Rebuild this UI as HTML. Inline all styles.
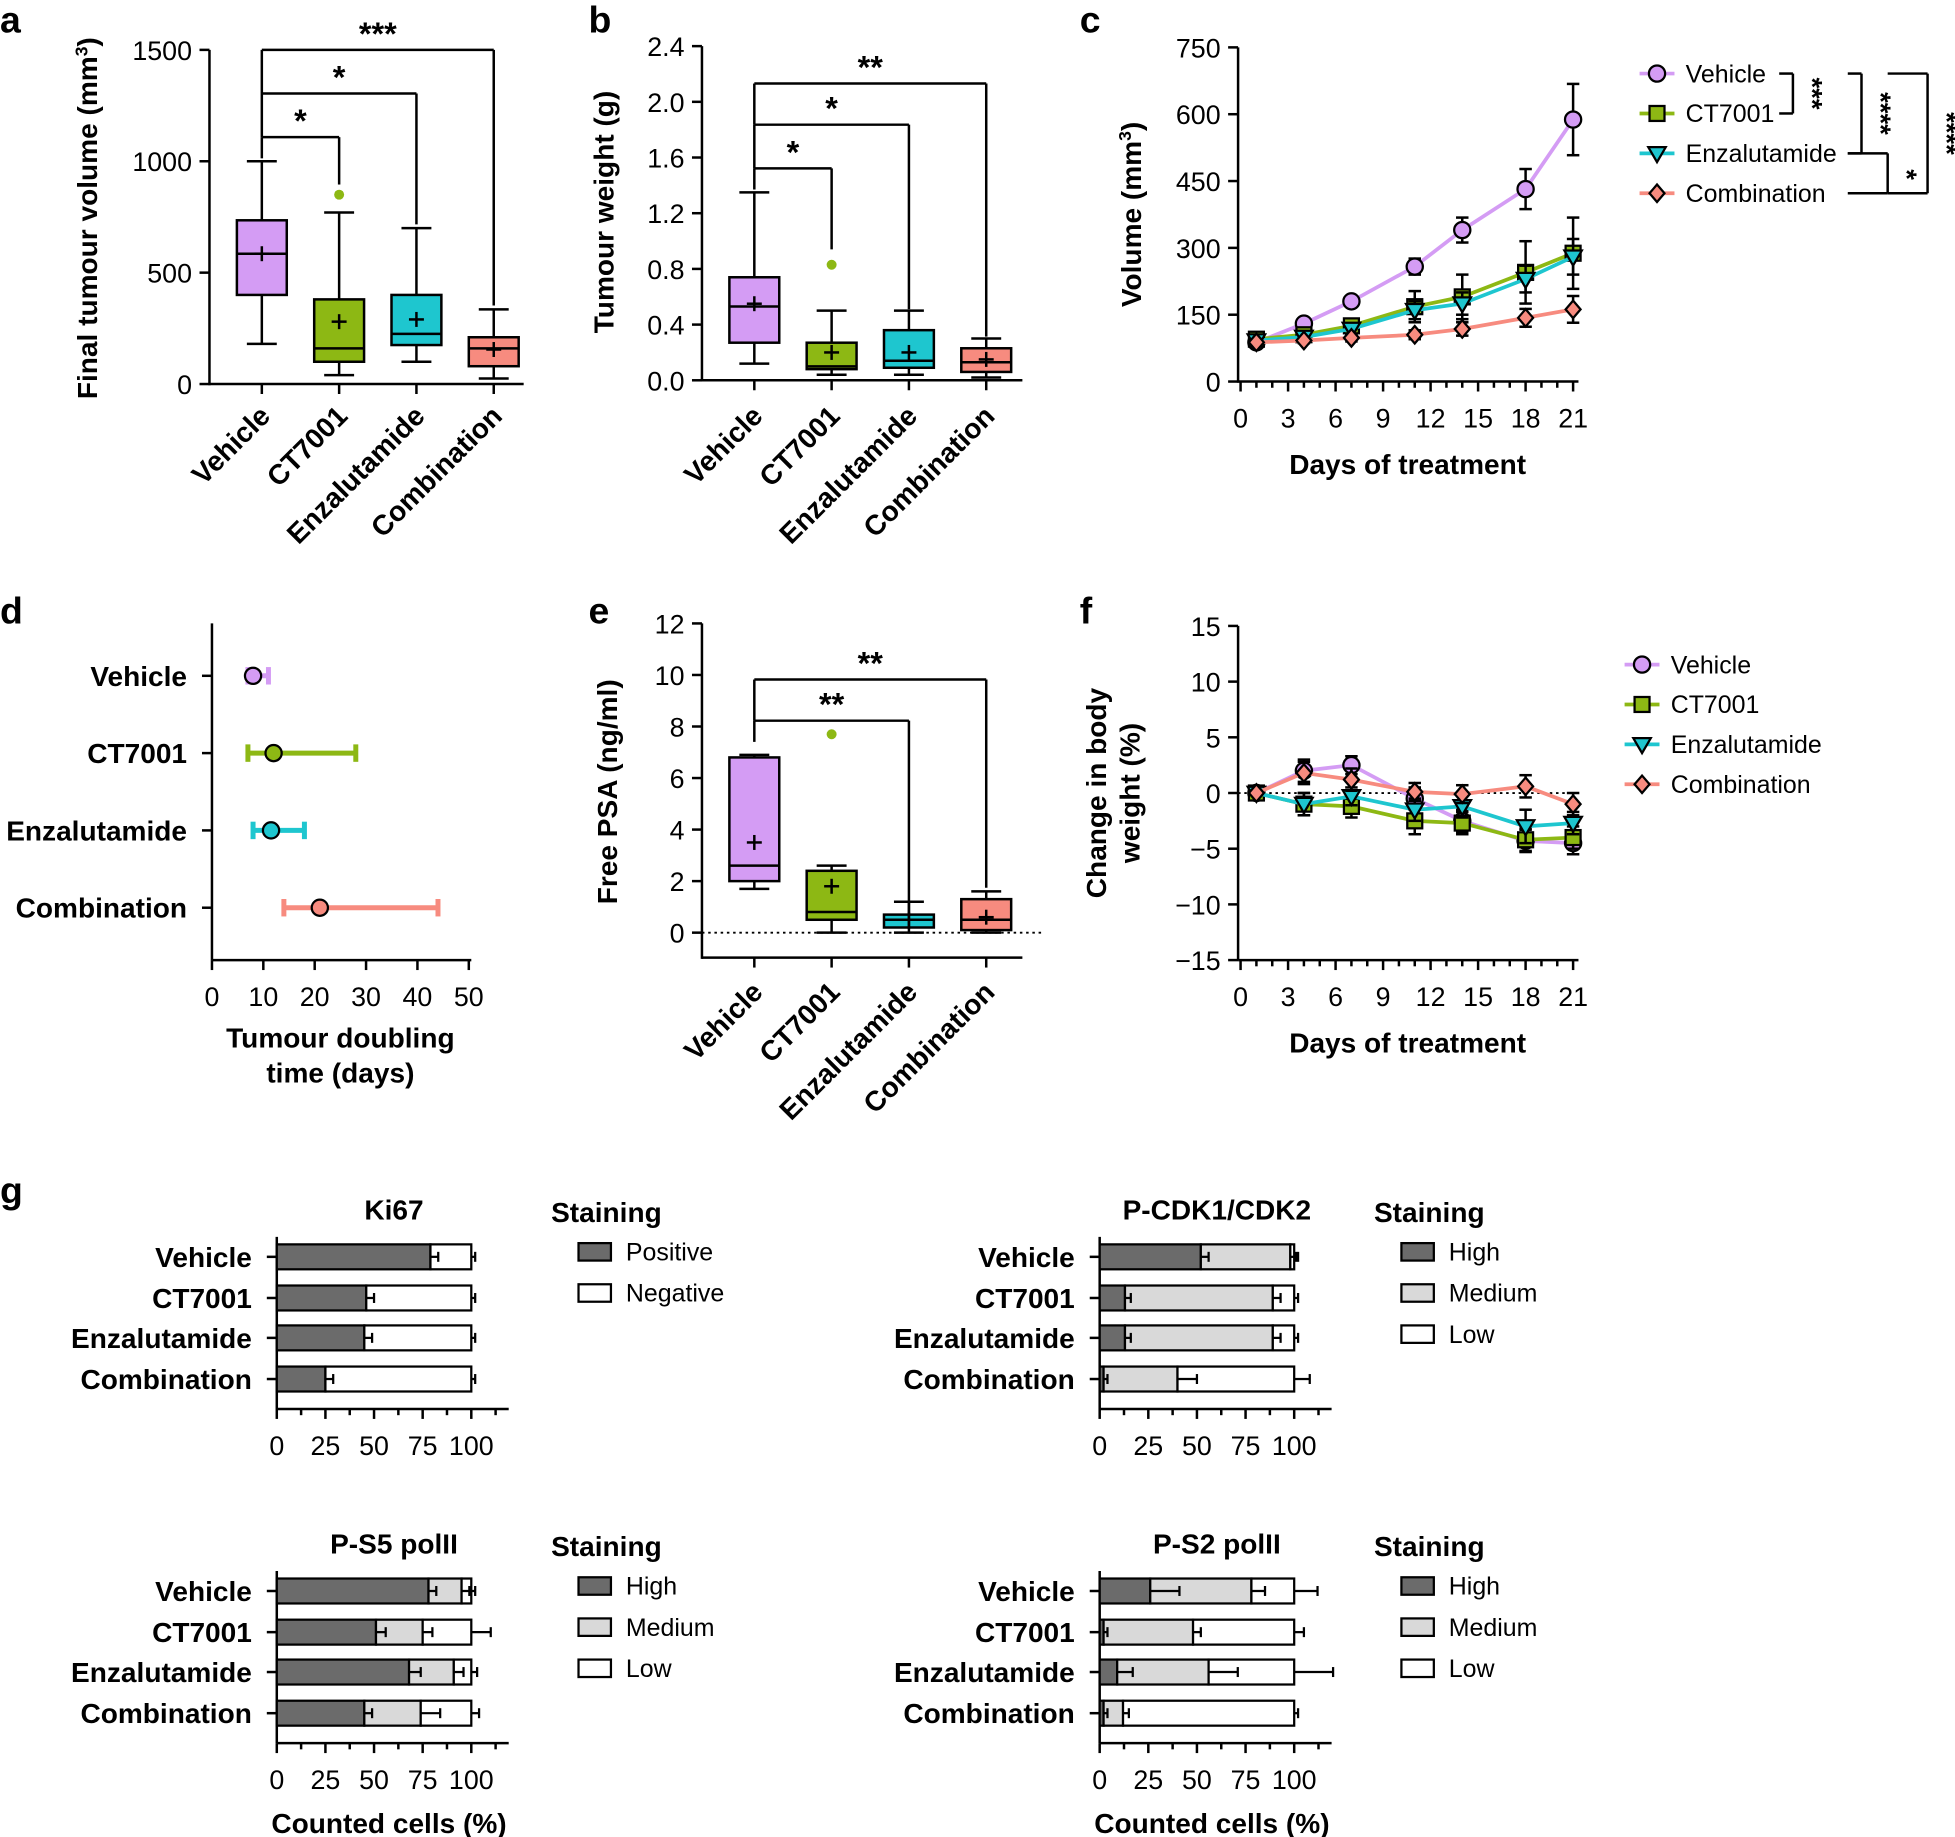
<!DOCTYPE html>
<html><head><meta charset="utf-8"><style>
html,body{margin:0;padding:0;background:#fff}
svg{display:block}
text{font-family:"Liberation Sans",Arial,sans-serif;fill:#000}
</style></head><body>
<svg id="s" width="1955" height="1837" viewBox="0 0 1568 1473.3" preserveAspectRatio="none" xmlns="http://www.w3.org/2000/svg"></svg>
<script>
const S=document.getElementById('s');let h='';
const P='#d49cf4',G='#8db814',C='#1ec6cf',R='#f78b7f';
const TS=21.5,LS=22.5;
function L(a,b,c,d,w,col,extra){h+=`<line x1="${a}" y1="${b}" x2="${c}" y2="${d}" stroke="${col||'#000'}" stroke-width="${w||2}" ${extra||''}/>`;}
function T(x,y,s,sz,an,wt,rot){h+=`<text x="${x}" y="${y}" font-size="${sz||20}" text-anchor="${an||'middle'}" font-weight="${wt||'normal'}" ${rot!==undefined?`transform="rotate(${rot} ${x} ${y})"`:''}>${s}</text>`;}
function R_(x,y,w,hh,f,sw){h+=`<rect x="${x}" y="${y}" width="${w}" height="${hh}" fill="${f}" stroke="#000" stroke-width="${sw||2}"/>`;}
function mk(type,x,y,col){
 if(type==0)h+=`<circle cx="${x}" cy="${y}" r="6.5" fill="${col}" stroke="#000" stroke-width="1.8"/>`;
 else if(type==1)h+=`<rect x="${x-6}" y="${y-6}" width="12" height="12" fill="${col}" stroke="#000" stroke-width="1.8"/>`;
 else if(type==2)h+=`<polygon points="${x-7},${y-5} ${x+7},${y-5} ${x},${y+7}" fill="${col}" stroke="#000" stroke-width="1.8"/>`;
 else h+=`<polygon points="${x},${y-7} ${x+6},${y} ${x},${y+7} ${x-6},${y}" fill="${col}" stroke="#000" stroke-width="1.8"/>`;
}
function pl(k){h+=`<text x="${k[1]}" y="${k[2]}" font-size="30" font-weight="bold" text-anchor="start">${k[0]}</text>`;}
pl(['a',0,26]);pl(['b',472,26]);pl(['c',866,26]);pl(['d',0,500]);pl(['e',472,500]);pl(['f',866,500]);pl(['g',0,965]);
function yax(x,y0,y1,ticks,fn){L(x,y0+1,x,y1,2);ticks.forEach(t=>{const y=fn(t);L(x-8,y,x,y,2);T(x-14,y+8,t,TS,'end');});}
function box(cx,fn,st,col,w){w=w||40;const [lo,q1,med,q3,hi,mean,out]=st;
 L(cx,fn(lo),cx,fn(q1));L(cx,fn(q3),cx,fn(hi));L(cx-12,fn(lo),cx+12,fn(lo));L(cx-12,fn(hi),cx+12,fn(hi));
 R_(cx-w/2,fn(q3),w,fn(q1)-fn(q3),col);L(cx-w/2,fn(med),cx+w/2,fn(med));
 L(cx-6,fn(mean),cx+6,fn(mean));L(cx,fn(mean)-6,cx,fn(mean)+6);
 if(out!==undefined)h+=`<circle cx="${cx}" cy="${fn(out)}" r="4" fill="${col}"/>`;}
function br(x1,yb,x2,y1,y2,lab){L(x1,y1,x1,yb);L(x1,yb,x2,yb);L(x2,yb,x2,y2);T((x1+x2)/2,yb-4,lab,26,'middle','bold');}
function xlabs(cs,y){['Vehicle','CT7001','Enzalutamide','Combination'].forEach((s,i)=>T(cs[i]+8,y,s,LS,'end','bold',-45));}
// Panel a
{const fa=v=>308-v*268/1500;yax(168,308,40,[0,500,1000,1500],fa);L(168,308,420,308);
const cs=[210,272,334,396];cs.forEach(c=>L(c,308,c,316));
box(210,fa,[180,400,585,735,1000,585],P);box(272,fa,[40,100,160,380,770,280,850],G);
box(334,fa,[100,175,225,400,700,290],C);box(396,fa,[25,80,160,210,335,155],R);
br(210,110,272,127,148,'*');br(210,75,334,110,180,'*');br(210,40,396,75,245,'***');
T(78,175,'Final tumour volume (mm<tspan dy="-8" font-size="14">3</tspan><tspan dy="8">)</tspan>',LS,'middle','bold',-90);xlabs(cs,335);}
// Panel b
{const fb=v=>305-v*268/2.4;yax(563,305,37,['0.0','0.4','0.8','1.2','1.6','2.0','2.4'],v=>fb(+v));L(563,305,820,305);
const cs=[605,667,729,791];cs.forEach(c=>L(c,305,c,313));
box(605,fb,[0.12,0.27,0.53,0.74,1.35,0.55],P);box(667,fb,[0.04,0.08,0.1,0.27,0.5,0.2,0.83],G);
box(729,fb,[0.04,0.09,0.14,0.36,0.5,0.2],C);box(791,fb,[0.02,0.06,0.13,0.23,0.3,0.15],R);
br(605,135,667,152,200,'*');br(605,100,729,135,248,'*');br(605,67,791,100,270,'**');
T(492,170,'Tumour weight (g)',LS,'middle','bold',-90);xlabs(cs,335);}
const DAYS=[1,4,7,11,14,18,21];const dx=d=>995+d*12.7;
function xdays(y){L(993,y,1266,y);for(let d=0;d<=21;d++){L(dx(d),y,dx(d),y+(d%3==0?8:5));}
 [0,3,6,9,12,15,18,21].forEach(d=>T(dx(d),y+37,d,TS));T(1129,y+74,'Days of treatment',LS,'middle','bold');}
function series(fn,data,errs,col,type){let p=data.map((v,i)=>`${dx(DAYS[i])},${fn(v)}`).join(' ');
 h+=`<polyline points="${p}" fill="none" stroke="${col}" stroke-width="3"/>`;
 data.forEach((v,i)=>{const e=errs[i];if(e){L(dx(DAYS[i]),fn(v+e),dx(DAYS[i]),fn(v-e),2);L(dx(DAYS[i])-5,fn(v+e),dx(DAYS[i])+5,fn(v+e),2);L(dx(DAYS[i])-5,fn(v-e),dx(DAYS[i])+5,fn(v-e),2);}});
 data.forEach((v,i)=>mk(type,dx(DAYS[i]),fn(v),col));}
function legend(x,ys){[['Vehicle',P],['CT7001',G],['Enzalutamide',C],['Combination',R]].forEach((k,i)=>{L(x,ys[i],x+28,ys[i],3,k[1]);mk(i,x+14,ys[i],k[1]);T(x+37,ys[i]+7,k[0],20,'start');});}
// Panel c
{const fc=v=>306-v*268/750;yax(993,306,38,[0,150,300,450,600,750],fc);xdays(306);
series(fc,[88,130,180,258,340,432,588],[5,10,10,18,28,45,80],P,0);
series(fc,[95,105,125,168,190,245,288],[5,8,12,35,50,70,80],G,1);
series(fc,[92,100,118,160,175,230,280],[5,8,12,20,25,30,40],C,2);
series(fc,[88,92,98,105,118,143,162],[4,6,8,10,15,20,30],R,3);
T(915,172,'Volume (mm<tspan dy="-8" font-size="14">3</tspan><tspan dy="8">)</tspan>',LS,'middle','bold',-90);
legend(1315,[59,91,123,155]);
L(1427,59,1438,59);L(1438,59,1438,91);L(1427,91,1438,91);T(1446,75,'***',22,'middle','bold',90);
L(1482,59,1493,59);L(1493,59,1493,123);L(1482,123,1493,123);T(1501,91,'****',22,'middle','bold',90);
L(1482,123,1514,123);L(1514,123,1514,155);L(1482,155,1514,155);T(1522,140,'*',22,'middle','bold',90);
L(1514,59,1546,59);L(1546,59,1546,155);L(1514,155,1546,155);T(1554,107,'****',22,'middle','bold',90);}
// Panel d
{const fx=v=>170+v*4.12;L(170,500,170,770);L(170,770,378,770);
[0,10,20,30,40,50].forEach(v=>{L(fx(v),770,fx(v),778);T(fx(v),807,v,TS);});
const rows=[[542,'Vehicle',8,7,11,P],[604,'CT7001',12,7,28,G],[666,'Enzalutamide',11.5,8,18,C],[728,'Combination',21,14,44,R]];
rows.forEach(r=>{L(162,r[0],170,r[0]);T(150,r[0]+8,r[1],LS,'end','bold');
 L(fx(r[3]),r[0],fx(r[4]),r[0],4,r[5]);L(fx(r[3]),r[0]-7,fx(r[3]),r[0]+7,4,r[5]);L(fx(r[4]),r[0]-7,fx(r[4]),r[0]+7,4,r[5]);mk(0,fx(r[2]),r[0],r[5]);});
T(273,840,'Tumour doubling',LS,'middle','bold');T(273,868,'time (days)',LS,'middle','bold');}
// Panel e
{const fe=v=>748-v*248/12;yax(563,768,500,[0,2,4,6,8,10,12],fe);L(563,768,820,768);
L(563,748,835,748,1.5,'#000','stroke-dasharray="2,3"');
const cs=[605,667,729,791];cs.forEach(c=>L(c,768,c,776));
box(605,fe,[1.7,2,2.6,6.8,6.9,3.5],P);box(667,fe,[0,0.5,0.8,2.4,2.6,1.8,7.7],G);
box(729,fe,[0,0.2,0.5,0.7,1.2,0.5],C);box(791,fe,[0,0.1,0.5,1.3,1.6,0.6],R);
br(605,578,729,595,745,'**');br(605,545,791,578,712,'**');
T(495,635,'Free PSA (ng/ml)',LS,'middle','bold',-90);xlabs(cs,797);}
// Panel f
{const ff=v=>636-v*268/30;
L(993,502,993,770);[[15,'15'],[10,'10'],[5,'5'],[0,'0'],[-5,'\u22125'],[-10,'\u221210'],[-15,'\u221215']].forEach(t=>{L(985,ff(t[0]),993,ff(t[0]));T(979,ff(t[0])+8,t[1],TS,'end');});
xdays(770);L(993,636,1266,636,1.5,'#000','stroke-dasharray="2,3"');
series(ff,[0,2,2.5,-0.5,-2.5,-4.3,-4.5],[0,1,0.8,1,1,1,1],P,0);
series(ff,[0,-1,-1.2,-2.5,-2.7,-4.2,-4],[0,1,1,1.2,1,1,1],G,1);
series(ff,[0,-1,-0.3,-1.5,-1.2,-3,-2.7],[0,1,0.8,1,1,1.5,1],C,2);
series(ff,[0,1.8,1.2,0.1,-0.1,0.6,-1],[0,1,1,0.8,0.8,1,1],R,3);
T(887,636,'Change in body',LS,'middle','bold',-90);T(914,636,'weight (%)',LS,'middle','bold',-90);
legend(1303,[533,565,597,629]);}
// Panel g
const DK='#6b6b6b',MD='#d9d9d9';
function bars(ax,rows,title,data,cols,lx,legs,bottom,errs){
 const fx=v=>ax+v*1.56;const axY=rows[3]+24;
 L(ax,rows[0]-16,ax,axY);L(ax,axY,ax+186,axY);
 for(let v=0;v<=115;v+=12.5){L(fx(v),axY,fx(v),axY+(v%25==0?8:5));}
 [0,25,50,75,100].forEach(v=>T(fx(v),axY+37,v,TS));
 T(ax+94,rows[0]-30,title,LS,'middle','bold');
 ['Vehicle','CT7001','Enzalutamide','Combination'].forEach((s,i)=>{T(ax-20,rows[i]+8,s,LS,'end','bold');L(ax-8,rows[i],ax,rows[i]);
  let x=0;data[i].forEach((v,j)=>{R_(fx(x),rows[i]-10,v*1.56,20,cols[j],1.8);x+=v;});
  let x2=0;data[i].forEach((v,j)=>{x2+=v;const e=errs?errs[i][j]:(j==data[i].length-1?2:4);if(e){L(fx(x2),rows[i],fx(x2+e),rows[i],1.8);L(fx(x2+e),rows[i]-4,fx(x2+e),rows[i]+4,1.8);}});});
 T(lx,rows[0]-28,'Staining',LS,'start','bold');
 legs.forEach((s,i)=>{R_(lx+22,rows[0]-11+i*33,26,14,cols[i],1.8);T(lx+60,rows[0]+3+i*33,s,20,'start');});
 if(bottom)T(ax+90,axY+72,'Counted cells (%)',LS,'middle','bold');}
bars(222,[1008,1041,1073,1106],'Ki67',[[79,21],[46,54],[45,55],[25,75]],[DK,'#fff'],442,['Positive','Negative']);
bars(882,[1008,1041,1073,1106],'P-CDK1/CDK2',[[52,46,2],[13,76,11],[13,76,11],[2,38,60]],[DK,MD,'#fff'],1102,['High','Medium','Low'],0,[[4,3,2],[3,4,2],[3,4,2],[2,10,8]]);
bars(222,[1276,1309,1341,1374],'P-S5 polII',[[78,17,5],[51,24,25],[68,23,9],[45,29,26]],[DK,MD,'#fff'],442,['High','Medium','Low'],1,[[4,4,2],[5,5,10],[6,5,3],[4,10,4]]);
bars(882,[1276,1309,1341,1374],'P-S2 polII',[[26,52,22],[2,46,52],[9,47,44],[2,10,88]],[DK,MD,'#fff'],1102,['High','Medium','Low'],1,[[15,7,12],[2,4,5],[8,15,20],[2,3,2]]);
S.innerHTML=h;
</script>
</body></html>
